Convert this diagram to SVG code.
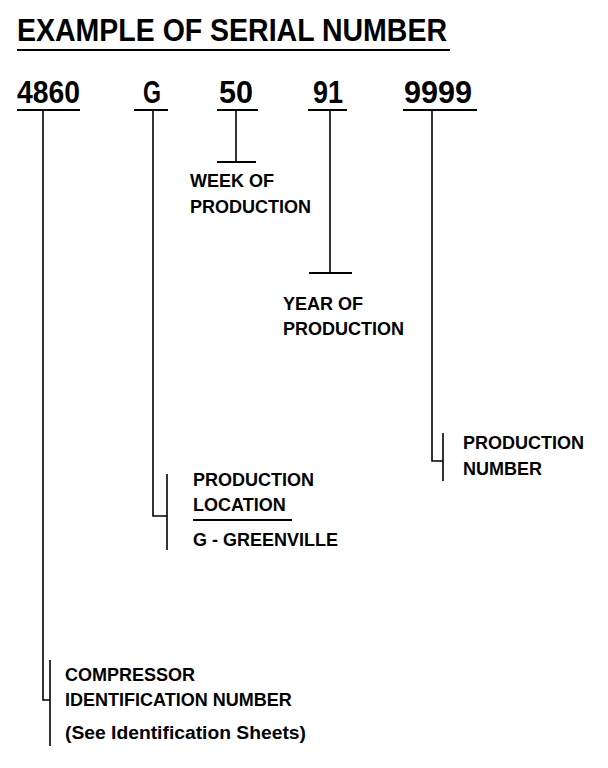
<svg xmlns="http://www.w3.org/2000/svg" width="608" height="768" viewBox="0 0 608 768">
<style>
text{font-family:"Liberation Sans",Arial,sans-serif;font-weight:bold;fill:#000}
.title{font-size:32px}
.num{font-size:31px}
.lbl{font-size:18px}
.ul{stroke:#000;stroke-width:2.2;fill:none}
.ln{stroke:#000;stroke-width:1.6;fill:none}
</style>
<rect width="608" height="768" fill="#fff"/>
<g id="title">
<text class="title" x="17" y="41" textLength="430" lengthAdjust="spacingAndGlyphs">EXAMPLE OF SERIAL NUMBER</text>
<line class="ul" x1="17" y1="50" x2="450" y2="50"/>
</g>
<g id="n4860">
<text class="num" x="17" y="103" textLength="63" lengthAdjust="spacingAndGlyphs">4860</text>
<line class="ul" x1="17" y1="110" x2="80" y2="110"/>
</g>
<g id="nG">
<text class="num" x="143" y="103" textLength="18" lengthAdjust="spacingAndGlyphs">G</text>
<line class="ul" x1="134" y1="110" x2="168" y2="110"/>
</g>
<g id="n50">
<text class="num" x="219" y="103" textLength="34" lengthAdjust="spacingAndGlyphs">50</text>
<line class="ul" x1="217" y1="110" x2="258" y2="110"/>
</g>
<g id="n91">
<text class="num" x="313" y="103" textLength="30" lengthAdjust="spacingAndGlyphs">91</text>
<line class="ul" x1="308" y1="110" x2="347" y2="110"/>
</g>
<g id="n9999">
<text class="num" x="404" y="103" textLength="68" lengthAdjust="spacingAndGlyphs">9999</text>
<line class="ul" x1="403" y1="110" x2="477" y2="110"/>
</g>
<g id="week">
<text class="lbl" x="190" y="187">WEEK OF</text>
<text class="lbl" x="190" y="213">PRODUCTION</text>
</g>
<g id="year">
<text class="lbl" x="283" y="310">YEAR OF</text>
<text class="lbl" x="283" y="335">PRODUCTION</text>
</g>
<g id="prodnum">
<text class="lbl" x="463" y="449">PRODUCTION</text>
<text class="lbl" x="463" y="475">NUMBER</text>
</g>
<g id="location">
<text class="lbl" x="193" y="486">PRODUCTION</text>
<text class="lbl" x="193" y="511">LOCATION</text>
<line class="ul" x1="193" y1="520" x2="292" y2="520"/>
<text class="lbl" x="193" y="546">G - GREENVILLE</text>
</g>
<g id="compressor">
<text class="lbl" x="65" y="681">COMPRESSOR</text>
<text class="lbl" x="65" y="706">IDENTIFICATION NUMBER</text>
<text class="lbl" x="65" y="739" textLength="241" lengthAdjust="spacingAndGlyphs">(See Identification Sheets)</text>
</g>
<g id="connectors">
<polyline class="ln" points="43,110 43,700 50,700"/>
<line class="ln" x1="50" y1="660" x2="50" y2="746"/>
<polyline class="ln" points="153,110 153,516 167,516"/>
<line class="ln" x1="167" y1="474" x2="167" y2="550"/>
<line class="ln" x1="236" y1="110" x2="236" y2="162"/>
<line class="ul" x1="217" y1="162" x2="256" y2="162"/>
<line class="ln" x1="330" y1="110" x2="330" y2="273"/>
<line class="ul" x1="309" y1="273" x2="352" y2="273"/>
<polyline class="ln" points="432,110 432,461 443,461"/>
<line class="ln" x1="443" y1="433" x2="443" y2="481"/>
</g>
</svg>
